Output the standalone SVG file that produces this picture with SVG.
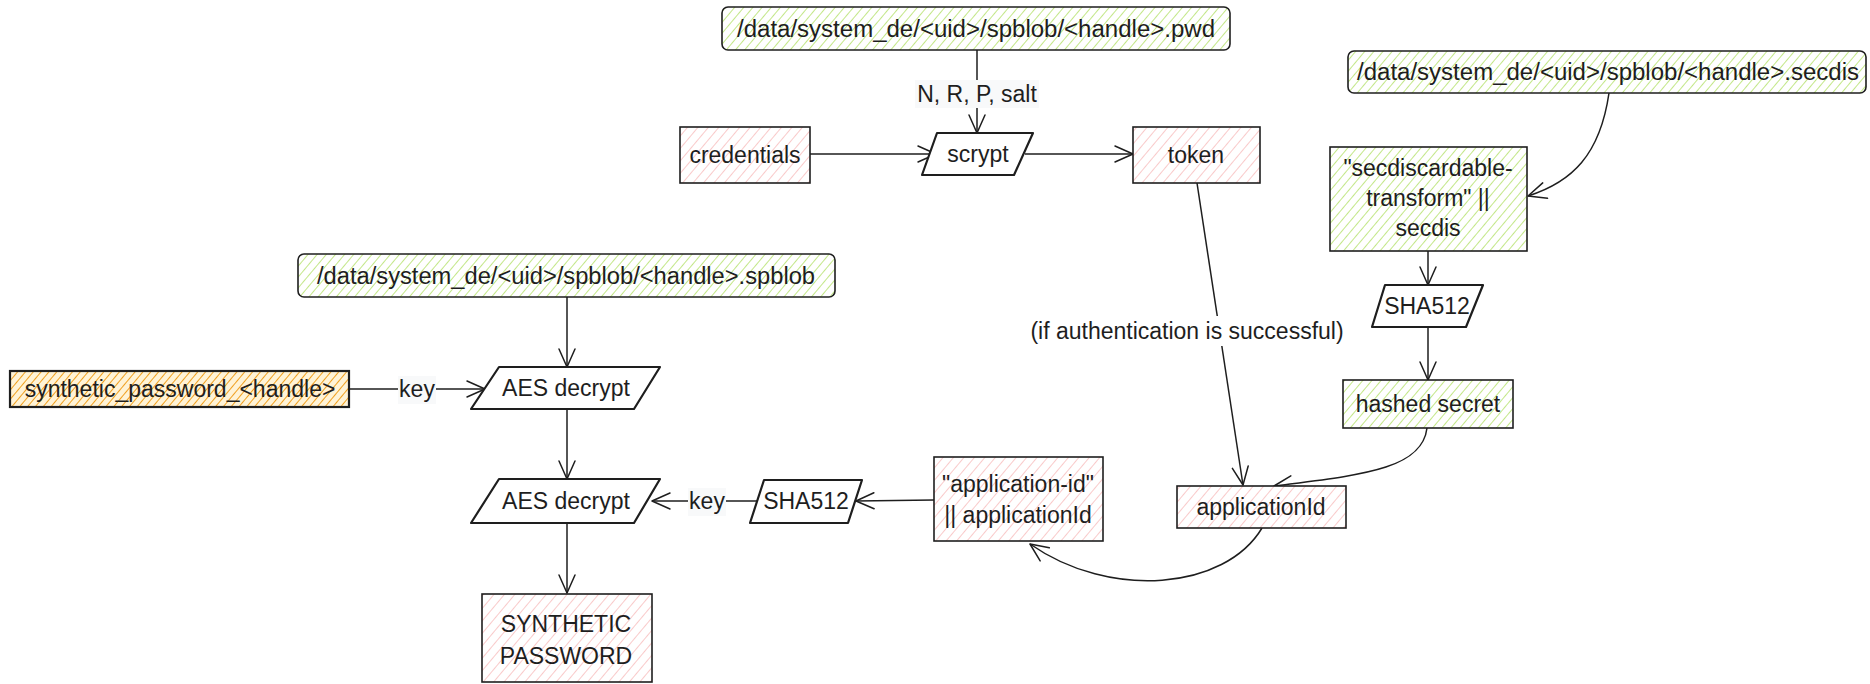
<svg xmlns="http://www.w3.org/2000/svg" width="1870" height="684" viewBox="0 0 1870 684">
<style>
  text { font-family: "Liberation Sans", "Noto Sans", Arial, sans-serif; font-size: 23px; fill: #1e1e1e; text-anchor: middle; dominant-baseline: central; }
  .box { stroke: #1e1e1e; stroke-width: 1.6; }
  .green { fill: url(#hGreen); }
  .pink { fill: url(#hPink); }
  .orange { fill: url(#hOrange); stroke-width: 2.2; }
  .para { fill: #ffffff; stroke: #1e1e1e; stroke-width: 2.2; stroke-linejoin: round; }
  .conn { fill: none; stroke: #1e1e1e; stroke-width: 1.5; }
  .lblbg { fill: #f8f9fa; }
  .lblwhite { fill: #ffffff; }
</style>
<defs>
  <pattern id="hGreen" patternUnits="userSpaceOnUse" width="7" height="7" patternTransform="rotate(40)">
    <rect width="7" height="7" fill="#ffffff"/>
    <line x1="0" y1="0" x2="0" y2="7" stroke="#b9e372" stroke-width="1.7"/>
  </pattern>
  <pattern id="hPink" patternUnits="userSpaceOnUse" width="8" height="8" patternTransform="rotate(40)">
    <rect width="8" height="8" fill="#ffffff"/>
    <line x1="0" y1="0" x2="0" y2="8" stroke="#f7b8b8" stroke-width="1.5"/>
  </pattern>
  <pattern id="hOrange" patternUnits="userSpaceOnUse" width="6" height="6" patternTransform="rotate(40)">
    <rect width="6" height="6" fill="#fff3d6"/>
    <line x1="0" y1="0" x2="0" y2="6" stroke="#f0a020" stroke-width="2"/>
  </pattern>
  <marker id="arr" viewBox="0 0 20 20" refX="19" refY="10" markerWidth="20" markerHeight="20" markerUnits="userSpaceOnUse" orient="auto">
    <path d="M1,2 L19,10 L1,18" fill="none" stroke="#1e1e1e" stroke-width="1.5" stroke-linecap="round" stroke-linejoin="round"/>
  </marker>
</defs>
<rect width="1870" height="684" fill="#ffffff"/>

<g id="connectors">
  <path class="conn" d="M977,50 L977,133" marker-end="url(#arr)"/>
  <path class="conn" d="M810,154 L936,154" marker-end="url(#arr)"/>
  <path class="conn" d="M1025,154 L1133,154" marker-end="url(#arr)"/>
  <path class="conn" d="M1197,183 L1243,485" marker-end="url(#arr)"/>
  <path class="conn" d="M1609,93 C1600,155 1572,182 1528,196" marker-end="url(#arr)"/>
  <path class="conn" d="M1428,251 L1428,285" marker-end="url(#arr)"/>
  <path class="conn" d="M1428,327 L1428,380" marker-end="url(#arr)"/>
  <path class="conn" d="M1427,428 C1422,470 1360,475 1274,486" marker-end="url(#arr)"/>
  <path class="conn" d="M1262,528 C1225,590 1110,600 1030,544" marker-end="url(#arr)"/>
  <path class="conn" d="M934,500 L856,501" marker-end="url(#arr)"/>
  <path class="conn" d="M757,501 L652,501" marker-end="url(#arr)"/>
  <path class="conn" d="M567,297 L567,367" marker-end="url(#arr)"/>
  <path class="conn" d="M349,389 L485,389" marker-end="url(#arr)"/>
  <path class="conn" d="M567,409 L567,479" marker-end="url(#arr)"/>
  <path class="conn" d="M567,523 L567,593" marker-end="url(#arr)"/>
  <rect class="lblbg" x="915" y="80" width="124" height="28"/>
  <text x="977" y="94">N, R, P, salt</text>
  <rect class="lblwhite" x="1012" y="316" width="350" height="30"/>
  <text x="1187" y="331">(if authentication is successful)</text>
  <rect class="lblbg" x="398" y="376" width="38" height="28"/>
  <text x="417" y="389">key</text>
  <rect class="lblbg" x="688" y="488" width="38" height="28"/>
  <text x="707" y="501">key</text>
</g>

<g id="pwd-file">
  <rect class="box green" x="722" y="7" width="508" height="43" rx="6"/>
  <text x="976" y="29" textLength="478" lengthAdjust="spacingAndGlyphs">/data/system_de/&lt;uid&gt;/spblob/&lt;handle&gt;.pwd</text>
</g>
<g id="credentials">
  <rect class="box pink" x="680" y="127" width="130" height="56"/>
  <text x="745" y="155">credentials</text>
</g>
<g id="scrypt">
  <polygon class="para" points="937,133 1033,133 1014,175 922,175"/>
  <text x="978" y="154">scrypt</text>
</g>
<g id="token">
  <rect class="box pink" x="1133" y="127" width="127" height="56"/>
  <text x="1196" y="155">token</text>
</g>
<g id="secdis-file">
  <rect class="box green" x="1348" y="51" width="518" height="42" rx="6"/>
  <text x="1608" y="72" textLength="502" lengthAdjust="spacingAndGlyphs">/data/system_de/&lt;uid&gt;/spblob/&lt;handle&gt;.secdis</text>
</g>
<g id="secdiscardable">
  <rect class="box green" x="1330" y="147" width="197" height="104"/>
  <text x="1428" y="168">"secdiscardable-</text>
  <text x="1428" y="198">transform" ||</text>
  <text x="1428" y="228">secdis</text>
</g>
<g id="sha512-right">
  <polygon class="para" points="1385,285 1483,285 1466,327 1372,327"/>
  <text x="1427" y="306">SHA512</text>
</g>
<g id="hashed-secret">
  <rect class="box green" x="1343" y="380" width="170" height="48"/>
  <text x="1428" y="404">hashed secret</text>
</g>
<g id="applicationId">
  <rect class="box pink" x="1177" y="486" width="169" height="42"/>
  <text x="1261" y="507">applicationId</text>
</g>
<g id="application-id-concat">
  <rect class="box pink" x="934" y="457" width="169" height="84"/>
  <text x="1018" y="484">"application-id"</text>
  <text x="1018" y="515">|| applicationId</text>
</g>
<g id="sha512-left">
  <polygon class="para" points="764,480 862,480 848,523 750,523"/>
  <text x="806" y="501">SHA512</text>
</g>
<g id="aes-decrypt-bottom">
  <polygon class="para" points="499,479 660,479 634,523 471,523"/>
  <text x="566" y="501">AES decrypt</text>
</g>
<g id="synthetic-password">
  <rect class="box pink" x="482" y="594" width="170" height="88"/>
  <text x="566" y="624">SYNTHETIC</text>
  <text x="566" y="656">PASSWORD</text>
</g>
<g id="spblob-file">
  <rect class="box green" x="298" y="254" width="537" height="43" rx="6"/>
  <text x="566" y="276" textLength="498" lengthAdjust="spacingAndGlyphs">/data/system_de/&lt;uid&gt;/spblob/&lt;handle&gt;.spblob</text>
</g>
<g id="aes-decrypt-top">
  <polygon class="para" points="499,367 660,367 634,409 471,409"/>
  <text x="566" y="388">AES decrypt</text>
</g>
<g id="synthetic-password-handle">
  <rect class="box orange" x="10" y="371" width="339" height="36"/>
  <text x="180" y="389">synthetic_password_&lt;handle&gt;</text>
</g>
</svg>
